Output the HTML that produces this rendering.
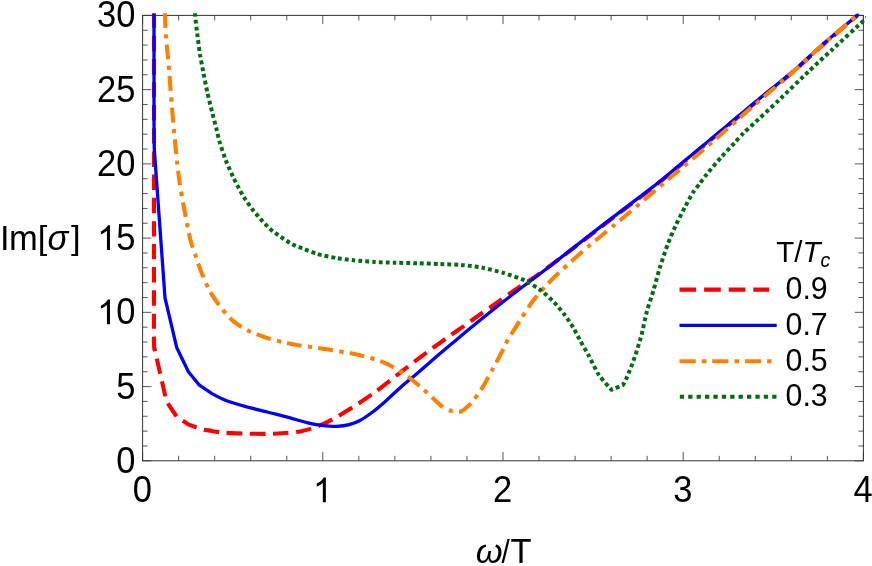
<!DOCTYPE html>
<html><head><meta charset="utf-8"><title>Im sigma plot</title>
<style>
html,body{margin:0;padding:0;background:#fff;}
body{width:872px;height:566px;overflow:hidden;font-family:"Liberation Sans",sans-serif;}
svg{display:block;will-change:transform;}
</style></head><body>
<svg width="872" height="566" viewBox="0 0 872 566">
<rect x="0" y="0" width="872" height="566" fill="#fff"/>
<path d="M142.60,460.80 v-8.70 M142.60,15.40 v8.70 M178.64,460.80 v-5.00 M178.64,15.40 v5.00 M214.68,460.80 v-5.00 M214.68,15.40 v5.00 M250.72,460.80 v-5.00 M250.72,15.40 v5.00 M286.76,460.80 v-5.00 M286.76,15.40 v5.00 M322.80,460.80 v-8.70 M322.80,15.40 v8.70 M358.84,460.80 v-5.00 M358.84,15.40 v5.00 M394.88,460.80 v-5.00 M394.88,15.40 v5.00 M430.92,460.80 v-5.00 M430.92,15.40 v5.00 M466.96,460.80 v-5.00 M466.96,15.40 v5.00 M503.00,460.80 v-8.70 M503.00,15.40 v8.70 M539.04,460.80 v-5.00 M539.04,15.40 v5.00 M575.08,460.80 v-5.00 M575.08,15.40 v5.00 M611.12,460.80 v-5.00 M611.12,15.40 v5.00 M647.16,460.80 v-5.00 M647.16,15.40 v5.00 M683.20,460.80 v-8.70 M683.20,15.40 v8.70 M719.24,460.80 v-5.00 M719.24,15.40 v5.00 M755.28,460.80 v-5.00 M755.28,15.40 v5.00 M791.32,460.80 v-5.00 M791.32,15.40 v5.00 M827.36,460.80 v-5.00 M827.36,15.40 v5.00 M863.40,460.80 v-8.70 M863.40,15.40 v8.70 M142.60,460.80 h8.70 M863.40,460.80 h-8.70 M142.60,445.95 h5.00 M863.40,445.95 h-5.00 M142.60,431.11 h5.00 M863.40,431.11 h-5.00 M142.60,416.26 h5.00 M863.40,416.26 h-5.00 M142.60,401.41 h5.00 M863.40,401.41 h-5.00 M142.60,386.57 h8.70 M863.40,386.57 h-8.70 M142.60,371.72 h5.00 M863.40,371.72 h-5.00 M142.60,356.87 h5.00 M863.40,356.87 h-5.00 M142.60,342.03 h5.00 M863.40,342.03 h-5.00 M142.60,327.18 h5.00 M863.40,327.18 h-5.00 M142.60,312.33 h8.70 M863.40,312.33 h-8.70 M142.60,297.49 h5.00 M863.40,297.49 h-5.00 M142.60,282.64 h5.00 M863.40,282.64 h-5.00 M142.60,267.79 h5.00 M863.40,267.79 h-5.00 M142.60,252.95 h5.00 M863.40,252.95 h-5.00 M142.60,238.10 h8.70 M863.40,238.10 h-8.70 M142.60,223.25 h5.00 M863.40,223.25 h-5.00 M142.60,208.41 h5.00 M863.40,208.41 h-5.00 M142.60,193.56 h5.00 M863.40,193.56 h-5.00 M142.60,178.71 h5.00 M863.40,178.71 h-5.00 M142.60,163.87 h8.70 M863.40,163.87 h-8.70 M142.60,149.02 h5.00 M863.40,149.02 h-5.00 M142.60,134.17 h5.00 M863.40,134.17 h-5.00 M142.60,119.33 h5.00 M863.40,119.33 h-5.00 M142.60,104.48 h5.00 M863.40,104.48 h-5.00 M142.60,89.63 h8.70 M863.40,89.63 h-8.70 M142.60,74.79 h5.00 M863.40,74.79 h-5.00 M142.60,59.94 h5.00 M863.40,59.94 h-5.00 M142.60,45.09 h5.00 M863.40,45.09 h-5.00 M142.60,30.25 h5.00 M863.40,30.25 h-5.00 M142.60,15.40 h8.70 M863.40,15.40 h-8.70" stroke="#444" stroke-width="0.9" fill="none"/>
<rect x="142.60" y="15.40" width="720.80" height="445.40" fill="none" stroke="#333" stroke-width="1"/>
<defs><clipPath id="cp"><rect x="140.6" y="13.2" width="725.3" height="449.4"/></clipPath></defs>
<g clip-path="url(#cp)" fill="none" stroke-linejoin="round">
<path d="M154.0,-20.0 C154.0,-20.0 154.0,91.1 154.0,120.0 C154.0,148.9 154.0,215.6 154.0,240.0 C154.0,264.4 153.9,327.9 154.0,340.0 C154.1,352.1 154.6,349.0 154.6,349.0 C154.6,349.0 166.5,401.5 166.5,401.5 C166.5,401.5 177.0,417.0 177.0,417.0 C177.0,417.0 188.7,424.6 188.7,424.6 C188.7,424.6 195.0,426.9 196.7,427.5 C198.4,428.1 201.9,429.2 203.6,429.6 C205.3,430.0 209.4,430.5 211.7,430.9 C214.0,431.3 220.9,432.5 224.7,432.8 C228.5,433.1 241.2,433.5 245.9,433.6 C250.6,433.7 262.4,434.0 267.1,433.9 C271.8,433.8 284.6,433.1 288.3,432.8 C292.0,432.5 297.5,432.0 300.0,431.5 C302.5,431.0 308.5,429.5 311.2,428.6 C313.9,427.7 320.8,425.1 323.9,423.7 C327.0,422.3 335.4,417.7 338.7,415.8 C342.0,413.9 349.6,409.3 353.6,406.7 C357.6,404.1 370.0,395.9 374.7,392.5 C379.4,389.1 391.5,379.4 395.9,376.0 C400.3,372.6 410.3,364.8 414.4,361.7 C418.5,358.6 428.7,351.0 432.8,348.0 C436.9,345.0 447.8,337.2 451.2,334.8 C454.6,332.4 461.0,328.1 463.8,326.1 C466.6,324.1 473.0,319.4 476.4,317.0 C479.8,314.6 490.7,307.1 494.8,304.2 C498.9,301.3 509.0,294.0 513.1,291.2 C517.2,288.4 528.0,281.5 532.1,278.7 C536.2,275.9 545.1,269.5 549.9,266.0 C554.7,262.5 569.4,251.2 575.0,246.9 C580.6,242.6 593.8,232.4 600.0,227.7 C606.2,223.0 624.2,209.4 631.0,204.2 C637.8,199.0 654.0,186.7 661.0,181.1 C668.0,175.5 687.8,158.8 694.4,153.4 C701.0,148.0 712.9,138.0 720.0,132.1 C727.1,126.2 749.6,107.3 757.9,100.5 C766.2,93.7 787.3,76.9 794.6,70.6 C801.9,64.3 816.7,50.2 823.7,44.1 C830.7,38.0 857.5,15.4 857.5,15.4" stroke="#ff0000" stroke-width="4.1" stroke-dasharray="15.4 7.73" stroke-dashoffset="-9.6"/>
<path d="M154.0,15.4 C154.0,15.4 154.0,105.1 154.0,120.0 C154.0,134.9 154.3,149.7 154.3,149.7 C154.3,149.7 165.0,297.8 165.0,297.8 C165.0,297.8 176.8,347.8 176.8,347.8 C176.8,347.8 188.4,371.7 188.4,371.7 C188.4,371.7 199.4,385.2 199.4,385.2 C199.4,385.2 212.0,393.6 212.0,393.6 C212.0,393.6 220.9,398.5 224.7,400.0 C228.5,401.5 241.2,405.4 245.9,406.7 C250.6,408.0 262.4,410.8 267.1,412.0 C271.8,413.2 283.9,416.1 288.3,417.3 C292.7,418.5 303.2,421.7 306.9,422.6 C310.6,423.5 318.5,425.0 321.8,425.4 C325.1,425.8 333.5,426.5 336.6,426.4 C339.7,426.3 346.7,425.4 349.3,424.7 C351.9,424.0 357.3,421.9 359.9,420.5 C362.5,419.1 369.8,414.1 372.6,412.0 C375.4,409.9 382.2,404.1 385.3,401.4 C388.4,398.7 397.0,390.6 400.2,387.7 C403.4,384.8 410.3,379.2 414.4,375.7 C418.5,372.2 432.3,360.2 437.4,355.8 C442.5,351.4 456.3,339.9 460.3,336.5 C464.3,333.1 469.1,329.1 473.5,325.5 C477.9,321.9 494.3,308.7 500.0,304.2 C505.7,299.7 519.2,289.5 524.7,285.3 C530.2,281.1 544.3,270.5 549.9,266.2 C555.5,261.9 569.4,250.9 575.0,246.6 C580.6,242.3 593.8,231.9 600.0,227.1 C606.2,222.3 624.2,208.8 631.0,203.6 C637.8,198.4 654.0,186.1 661.0,180.5 C668.0,174.9 687.8,158.2 694.4,152.8 C701.0,147.4 712.9,137.4 720.0,131.5 C727.1,125.6 749.6,106.7 757.9,99.9 C766.2,93.1 787.3,76.3 794.6,70.0 C801.9,63.7 816.7,49.6 823.7,43.5 C830.7,37.4 857.5,15.2 857.5,15.2" stroke="#0000ff" stroke-width="3.3" stroke-linecap="square"/>
<path d="M164.5,-10.0 C164.5,-10.0 164.9,9.7 165.0,14.7 C165.1,19.7 165.5,31.2 165.8,35.4 C166.1,39.6 167.1,48.6 167.5,52.4 C167.9,56.2 168.7,65.5 169.0,69.3 C169.3,73.1 170.0,82.3 170.3,86.3 C170.6,90.3 171.4,100.4 171.8,105.3 C172.2,110.2 173.5,126.0 173.9,130.0 C174.3,134.0 174.6,137.6 175.0,141.2 C175.4,144.8 176.6,157.7 177.1,162.4 C177.6,167.1 179.1,178.9 179.8,183.6 C180.5,188.3 182.6,200.2 183.4,204.7 C184.2,209.2 186.2,219.9 187.0,223.8 C187.8,227.7 189.5,236.5 190.4,240.0 C191.3,243.5 194.3,251.8 195.5,255.4 C196.7,259.0 199.8,268.4 201.4,272.4 C203.0,276.4 207.7,287.4 209.9,291.4 C212.1,295.4 219.0,305.1 221.6,308.4 C224.2,311.7 230.3,318.6 233.2,321.1 C236.1,323.6 244.2,328.7 248.0,330.6 C251.8,332.5 263.1,336.7 267.1,338.0 C271.1,339.3 280.4,341.5 284.1,342.3 C287.8,343.1 297.0,345.0 300.0,345.5 C303.0,346.0 307.6,346.5 311.2,347.0 C314.8,347.5 327.7,349.4 332.4,350.2 C337.1,351.0 349.4,352.9 353.6,353.8 C357.8,354.7 367.2,357.1 370.5,358.0 C373.8,358.9 380.4,361.0 383.2,362.2 C386.0,363.4 393.1,366.9 395.9,368.6 C398.7,370.3 405.8,375.0 408.6,377.1 C411.4,379.2 418.6,385.2 421.4,387.7 C424.2,390.2 431.8,397.2 434.1,399.3 C436.4,401.4 440.5,405.4 442.5,406.7 C444.5,408.0 449.6,410.5 451.7,411.0 C453.8,411.5 461.0,411.6 461.0,411.6 C461.0,411.6 463.2,410.3 464.4,409.3 C465.6,408.3 469.8,404.9 471.8,402.5 C473.8,400.1 480.0,391.5 482.4,387.7 C484.8,383.9 490.6,373.0 493.0,368.6 C495.4,364.2 502.0,351.7 503.6,348.5 C505.2,345.3 505.9,343.2 507.8,340.0 C509.7,336.8 517.7,324.0 520.5,319.6 C523.3,315.2 530.4,304.3 533.2,300.5 C536.0,296.7 543.1,288.8 545.9,285.7 C548.7,282.6 555.8,275.7 558.6,273.0 C561.4,270.3 568.1,264.2 571.4,261.3 C574.7,258.4 584.7,249.5 588.3,246.5 C591.9,243.5 600.5,236.4 603.4,234.0 C606.3,231.6 611.8,227.1 614.4,225.0 C617.0,222.9 623.7,217.3 626.4,215.0 C629.1,212.7 635.8,207.0 638.5,204.7 C641.2,202.4 647.8,196.7 650.5,194.4 C653.2,192.1 659.9,186.5 662.6,184.2 C665.3,181.9 672.2,176.1 674.9,173.8 C677.6,171.5 684.3,165.8 687.0,163.5 C689.7,161.2 696.3,155.8 699.0,153.5 C701.7,151.2 708.2,145.4 710.9,143.1 C713.6,140.8 719.3,135.8 723.1,132.5 C726.9,129.2 740.6,117.0 744.7,113.4 C748.8,109.8 754.5,105.0 760.0,100.2 C765.5,95.4 787.5,76.8 794.6,70.5 C801.7,64.2 816.7,49.8 823.7,43.7 C830.7,37.6 857.5,15.2 857.5,15.2" stroke="#ff8000" stroke-width="4.1" stroke-dasharray="14.9 6.35 4.4 6.05" stroke-dashoffset="-22.85"/>
<path d="M194.5,-5.0 C194.5,-5.0 194.8,10.4 195.1,14.7 C195.4,19.0 196.7,28.9 197.2,33.3 C197.7,37.7 199.3,50.0 200.0,54.5 C200.7,59.0 202.8,69.4 203.6,73.6 C204.4,77.8 206.5,88.4 207.4,92.6 C208.3,96.8 211.0,107.5 212.0,111.7 C213.0,115.9 215.9,126.7 216.7,130.0 C217.5,133.3 218.4,137.8 219.4,141.2 C220.4,144.6 224.3,156.3 225.8,160.3 C227.3,164.3 231.9,174.4 233.2,177.2 C234.5,180.0 236.3,183.4 237.5,185.6 C238.7,187.8 242.2,194.6 243.8,197.1 C245.4,199.6 250.0,206.1 251.8,208.5 C253.6,210.9 258.4,216.7 260.4,218.9 C262.4,221.1 267.4,226.6 269.6,228.6 C271.8,230.6 278.0,235.0 280.5,236.7 C283.0,238.4 289.3,242.7 292.0,244.1 C294.7,245.5 301.8,248.1 304.6,249.2 C307.4,250.3 313.9,253.1 317.5,254.1 C321.1,255.1 332.6,257.4 336.6,258.1 C340.6,258.8 349.4,259.9 353.6,260.3 C357.8,260.7 370.0,261.7 374.7,262.0 C379.4,262.3 391.2,262.7 395.9,262.8 C400.6,262.9 412.2,263.1 417.1,263.2 C422.0,263.3 435.1,263.9 440.0,264.1 C444.9,264.3 456.5,264.5 461.2,264.9 C465.9,265.3 477.7,266.8 482.4,267.7 C487.1,268.6 498.9,271.6 503.6,273.0 C508.3,274.4 520.5,278.4 524.7,280.4 C528.9,282.4 538.4,288.5 541.7,291.0 C545.0,293.5 551.8,299.9 554.4,302.6 C557.0,305.3 562.9,312.5 565.0,315.3 C567.1,318.1 571.9,325.4 573.5,328.1 C575.1,330.8 578.2,337.0 579.8,340.0 C581.4,343.0 586.2,350.9 588.3,354.8 C590.4,358.7 596.3,371.1 598.9,375.0 C601.5,378.9 611.6,389.8 611.6,389.8 C611.6,389.8 623.0,385.0 623.0,385.0 C623.0,385.0 625.0,381.6 625.9,379.6 C626.8,377.6 630.0,369.8 631.1,367.0 C632.2,364.2 634.7,357.2 635.7,354.3 C636.7,351.4 639.0,343.3 639.7,341.1 C640.4,338.9 640.9,337.8 641.7,334.5 C642.5,331.2 645.6,316.1 646.9,311.2 C648.2,306.3 652.2,294.9 653.6,290.0 C655.0,285.1 658.3,272.6 659.9,267.5 C661.5,262.4 665.9,249.0 667.7,244.3 C669.5,239.6 673.9,229.4 675.8,225.3 C677.7,221.2 683.1,210.6 685.0,207.0 C686.9,203.4 691.3,195.1 693.0,192.5 C694.7,189.9 698.4,185.4 700.0,183.3 C701.6,181.2 704.8,176.6 707.1,173.8 C709.4,171.0 717.7,161.1 720.8,157.7 C723.9,154.3 732.1,145.5 734.6,142.8 C737.1,140.1 741.3,135.3 743.5,133.1 C745.7,130.9 750.2,126.9 754.1,123.3 C758.0,119.7 772.6,106.1 778.6,100.4 C784.6,94.7 802.4,77.4 808.4,71.7 C814.4,66.0 826.7,54.6 832.8,49.0 C838.9,43.4 859.2,24.7 863.3,20.9 C867.4,17.1 870.0,14.7 870.0,14.7" stroke="#006d10" stroke-width="4.0" stroke-dasharray="3.8 3.05" stroke-dashoffset="-4.3"/>
</g>
<g fill="none">
<path d="M679.5,289.6 H769.2" stroke="#ff0000" stroke-width="4.1" stroke-dasharray="16.7 7.9"/>
<path d="M679.5,325.4 H776.7" stroke="#0000ff" stroke-width="3.3"/>
<path d="M679.5,361.2 H771.5" stroke="#ff8000" stroke-width="4.1" stroke-dasharray="16.2 6 4.8 5.7"/>
<path d="M679.8,396.8 H776.7" stroke="#006d10" stroke-width="4" stroke-dasharray="4.3 4.1"/>
</g>
<g font-family="'Liberation Sans', sans-serif" fill="#000">
<text transform="translate(135.50,472.75) scale(1,1.06)" font-size="34.50" text-anchor="end">0</text>
<text transform="translate(135.50,398.52) scale(1,1.06)" font-size="34.50" text-anchor="end">5</text>
<text transform="translate(135.50,324.28) scale(1,1.06)" font-size="34.50" text-anchor="end">0</text>
<path transform="translate(97.12,324.28) scale(0.016846,-0.016846)" d="M763 0H583V1147Q518 1085 412.5 1023T223 930V1104Q373 1174.5 485 1275T644 1466H763Z"/>
<text transform="translate(135.50,250.05) scale(1,1.06)" font-size="34.50" text-anchor="end">5</text>
<path transform="translate(97.12,250.05) scale(0.016846,-0.016846)" d="M763 0H583V1147Q518 1085 412.5 1023T223 930V1104Q373 1174.5 485 1275T644 1466H763Z"/>
<text transform="translate(135.50,175.82) scale(1,1.06)" font-size="34.50" text-anchor="end">20</text>
<text transform="translate(135.50,101.58) scale(1,1.06)" font-size="34.50" text-anchor="end">25</text>
<text transform="translate(135.50,27.35) scale(1,1.06)" font-size="34.50" text-anchor="end">30</text>
<text transform="translate(142.30,502.30) scale(1,1.06)" font-size="34.50" text-anchor="middle">0</text>
<path transform="translate(313.01,502.20) scale(0.016846,-0.016846)" d="M763 0H583V1147Q518 1085 412.5 1023T223 930V1104Q373 1174.5 485 1275T644 1466H763Z"/>
<text transform="translate(502.70,502.30) scale(1,1.06)" font-size="34.50" text-anchor="middle">2</text>
<text transform="translate(682.90,502.30) scale(1,1.06)" font-size="34.50" text-anchor="middle">3</text>
<text transform="translate(863.10,502.30) scale(1,1.06)" font-size="34.50" text-anchor="middle">4</text>
<text transform="translate(-0.10,249.60) scale(1,1.04)" font-size="34.50">I</text>
<text transform="translate(9.00,249.60)" font-size="34.50">m</text>
<text transform="translate(37.70,249.40) scale(1,0.97)" font-size="34.50">[</text>
<text transform="translate(47.50,249.60)" font-size="34.50" font-style="italic">σ</text>
<text transform="translate(70.90,249.40) scale(1,0.97)" font-size="34.50">]</text>
<text transform="translate(475.80,562.90) scale(1,0.95)" font-size="34.50" font-style="italic">ω</text>
<text transform="translate(501.60,562.90) scale(0.86,0.96)" font-size="34.50">/</text>
<text transform="translate(510.60,562.90) scale(1,1.03)" font-size="34.50">T</text>
<text x="776.2" y="262.2" font-size="29.5">T/<tspan font-style="italic">T</tspan><tspan font-style="italic" font-size="19.5" dy="4.9">c</tspan></text>
<text transform="translate(785.60,299.10) scale(1,1.04)" font-size="30.30">0.9</text>
<text transform="translate(785.60,334.83) scale(1,1.04)" font-size="30.30">0.7</text>
<text transform="translate(785.60,370.56) scale(1,1.04)" font-size="30.30">0.5</text>
<text transform="translate(785.60,406.29) scale(1,1.04)" font-size="30.30">0.3</text>
</g>
</svg>
</body></html>
